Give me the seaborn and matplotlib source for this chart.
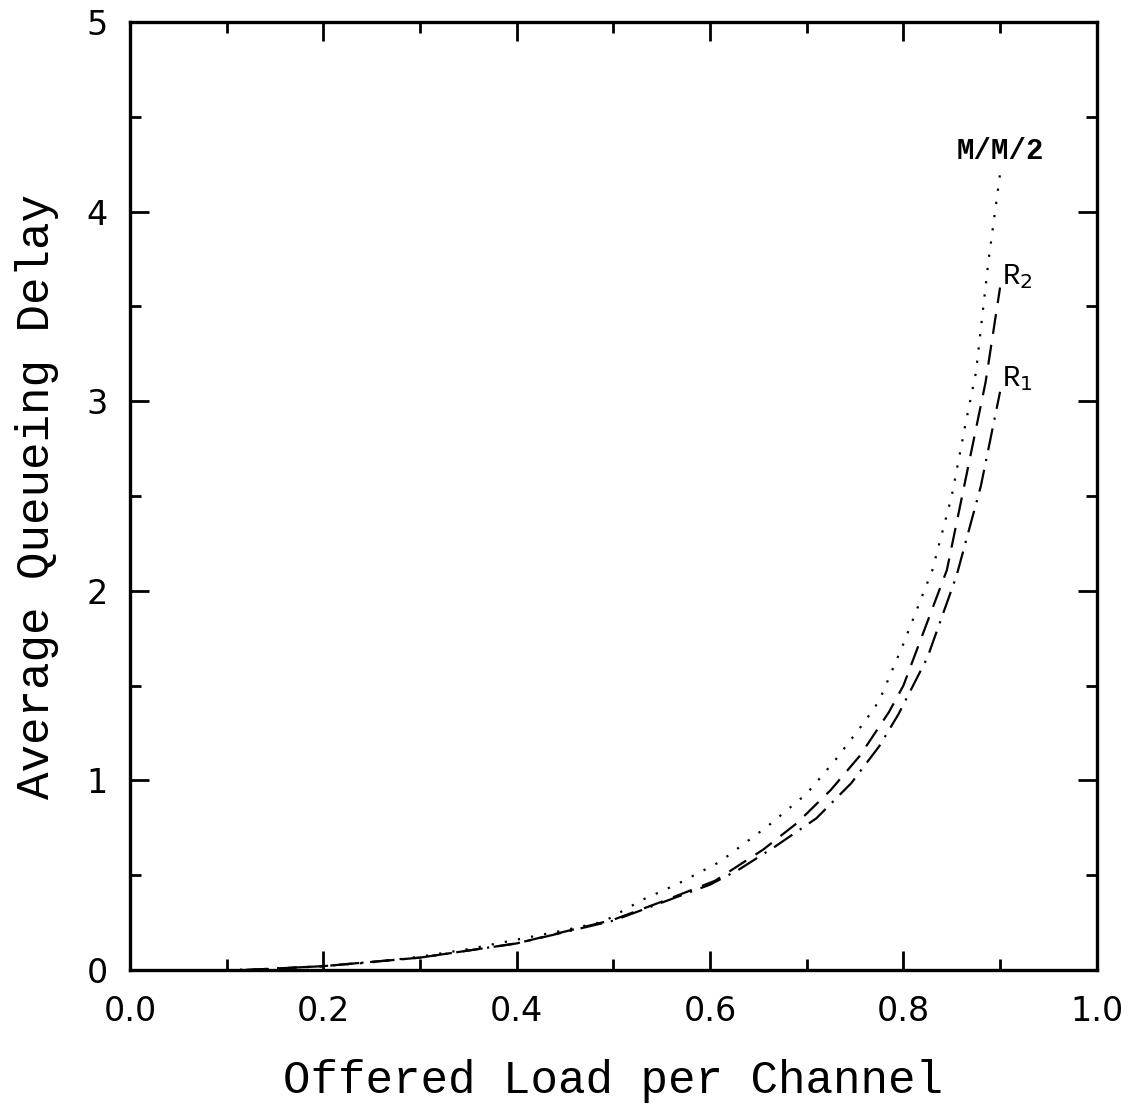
import seaborn as sns
from matplotlib import pyplot as plt
from matplotlib.ticker import MultipleLocator, FormatStrFormatter

# values
mm2_load = [0.10, 0.15, 0.20, 0.25, 0.30, 0.35, 0.40, 0.45, 0.49, 0.53, 0.565, 0.61,
            0.66, 0.70, 0.73, 0.76, 0.775, 0.80, 0.83, 0.85, 0.865, 0.875, 0.888, 0.90]
mm2_delay = [0.0, 0.005, 0.02, 0.04, 0.07, 0.11, 0.16, 0.21, 0.255, 0.37, 0.45, 0.57,
             0.76, 0.93, 1.11, 1.31, 1.42, 1.72, 2.11, 2.5, 2.9, 3.15, 3.74, 4.2]

r2_load = [0.12, 0.20, 0.30, 0.40, 0.50, 0.55, 0.605, 0.655, 0.69, 0.725, 0.755, 0.785,
           0.80, 0.845, 0.885, 0.90]
r2_delay = [0.0, 0.02, 0.065, 0.14, 0.265, 0.36, 0.47, 0.635, 0.775, 0.95, 1.13, 1.36,
            1.5, 2.11, 3.1, 3.6]

r1_load = [0.12, 0.20, 0.30, 0.40, 0.50, 0.60, 0.63, 0.667, 0.71, 0.746, 0.775, 0.795,
           0.825, 0.855, 0.88, 0.90]
r1_delay = [0.0, 0.02, 0.065, 0.14, 0.26, 0.45, 0.53, 0.65, 0.8, 0.985, 1.18, 1.35,
            1.65, 2.08, 2.55, 3.05]

sns.set_style("ticks")
plt.rcParams['font.family'] = ['Liberation Mono', 'DejaVu Sans Mono']
plt.rcParams['text.color'] = 'black'
plt.rcParams['axes.labelcolor'] = 'black'
plt.rcParams['xtick.color'] = 'black'
plt.rcParams['ytick.color'] = 'black'

fig = plt.figure(figsize=(11.33, 11.07), dpi=100)
ax = fig.add_axes([0.1147, 0.1238, 0.968 - 0.1147, 0.980 - 0.1238])

sns.lineplot(x=mm2_load, y=mm2_delay, ax=ax, color='black', linewidth=1.6,
             linestyle=(0, (1, 5)))
sns.lineplot(x=r2_load, y=r2_delay, ax=ax, color='black', linewidth=1.6,
             linestyle=(0, (9, 5)))
sns.lineplot(x=r1_load, y=r1_delay, ax=ax, color='black', linewidth=1.6,
             linestyle=(0, (10, 4, 1, 4)))

ax.text(0.855, 4.32, 'M/M/2', fontsize=21, fontweight='bold', va='center', ha='left')
ax.text(0.902, 3.66, r'R$_2$', fontsize=21, va='center', ha='left')
ax.text(0.902, 3.12, r'R$_1$', fontsize=21, va='center', ha='left')

ax.set_xlim(0, 1.0)
ax.set_ylim(0, 5)
ax.xaxis.set_major_locator(MultipleLocator(0.2))
ax.xaxis.set_minor_locator(MultipleLocator(0.1))
ax.yaxis.set_major_locator(MultipleLocator(1))
ax.yaxis.set_minor_locator(MultipleLocator(0.5))
ax.xaxis.set_major_formatter(FormatStrFormatter('%.1f'))
ax.yaxis.set_major_formatter(FormatStrFormatter('%d'))
ax.tick_params(which='both', direction='in', top=True, right=True, width=2)
ax.tick_params(which='major', length=14, labelsize=24)
ax.tick_params(axis='x', which='major', pad=18)
ax.tick_params(axis='y', which='major', pad=16)
ax.tick_params(which='minor', length=8)
for lab in ax.get_xticklabels() + ax.get_yticklabels():
    lab.set_family('DejaVu Sans')
for s in ax.spines.values():
    s.set_linewidth(2.4)
    s.set_color('black')

ax.set_xlabel('Offered Load per Channel', fontsize=33, labelpad=22)
ax.set_ylabel('Average Queueing Delay', fontsize=33, labelpad=20)

fig.savefig('out.png', dpi=100)
